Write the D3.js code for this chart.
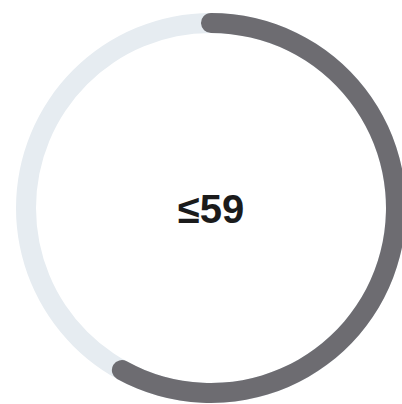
<!DOCTYPE html>
<html>
<head>
<meta charset="utf-8">
<script src="https://cdn.jsdelivr.net/npm/d3@7"></script>
<style>
  html, body { margin: 0; padding: 0; background: #fff; overflow: hidden; }
  svg { display: block; }
</style>
</head>
<body>
<svg id="view"></svg>
<script>
// gauge data
const gaugeValue = 58;
const gaugeMax = 100;
const centerLabel = '\u226459';

const colors = {track: '#e6ecf1', bar: '#6d6c71', text: '#1b1b1b'};

const width = 402, height = 404;
const cx = 211, cy = 208;
const outerR = 195, thickness = 20;

const svg = d3.select('#view')
    .attr('width', width)
    .attr('height', height);

const g = svg.append('g')
    .attr('transform', 'translate(' + cx + ',' + cy + ')');

const angle = d3.scaleLinear().domain([0, gaugeMax]).range([0, 2 * Math.PI]);

const arc = d3.arc()
    .innerRadius(outerR - thickness)
    .outerRadius(outerR);

// background track
g.append('path')
    .attr('d', arc({startAngle: 0, endAngle: 2 * Math.PI}))
    .style('fill', colors.track);

// value arc, round caps sticking out past both ends like a stroke linecap
const capAngle = (thickness / 2) / (outerR - thickness / 2);
g.append('path')
    .attr('d', arc.cornerRadius(thickness / 2)({
        startAngle: angle(0) - capAngle,
        endAngle: angle(gaugeValue) + capAngle
    }))
    .style('fill', colors.bar);

g.append('text')
    .attr('x', 0)
    .attr('y', 15)
    .attr('text-anchor', 'middle')
    .style('font-family', '"Liberation Sans", Arial, sans-serif')
    .style('font-weight', 'bold')
    .style('font-size', '40px')
    .style('fill', colors.text)
    .text(centerLabel);
</script>
</body>
</html>
